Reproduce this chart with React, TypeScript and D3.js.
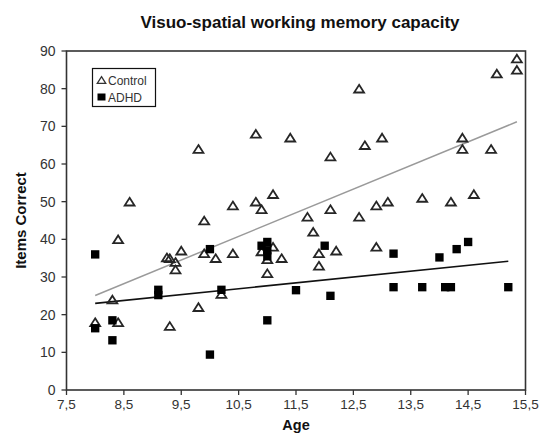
import * as d3 from "d3";

// Control group: [age, items correct]
const controlAge = [
  8.0, 8.3, 8.4, 8.4, 8.6, 9.25, 9.3, 9.3, 9.4, 9.4, 9.5, 9.8, 9.8, 9.9, 9.9,
  10.1, 10.2, 10.4, 10.4, 10.8, 10.8, 10.9, 10.9, 11.0, 11.0, 11.1, 11.1, 11.25,
  11.4, 11.7, 11.8, 11.9, 11.9, 12.1, 12.1, 12.2, 12.6, 12.6, 12.7, 12.9, 12.9,
  13.0, 13.1, 13.7, 14.2, 14.4, 14.4, 14.6, 14.9, 15.0, 15.35, 15.35,
];
const controlItems = [
  18, 24, 18, 40, 50, 35.2, 35, 17, 34, 32, 37, 64, 22, 45, 36.3,
  35, 25.5, 49, 36.3, 68, 50, 48, 36.8, 34.7, 31, 52, 38, 35,
  67, 46, 42, 36.3, 33, 62, 48, 37, 80, 46, 65, 49, 38,
  67, 50, 51, 50, 67, 64, 52, 64, 84, 88, 85,
];

// ADHD group
const adhdAge = [
  8.0, 8.0, 8.3, 8.3, 9.1, 9.1, 10.0, 10.0, 10.2, 10.9, 11.0, 11.0, 11.0, 11.0,
  11.5, 12.0, 12.1, 13.2, 13.2, 13.7, 14.0, 14.1, 14.2, 14.3, 14.5, 15.2,
];
const adhdItems = [
  36, 16.4, 18.5, 13.2, 26.6, 25.2, 37.4, 9.4, 26.6, 38.3, 39.3, 37.1, 35.5, 18.5,
  26.5, 38.3, 25, 36.2, 27.3, 27.3, 35.2, 27.3, 27.3, 37.4, 39.3, 27.3,
];

// fitted lines (end points as printed)
const controlFitAge = [8.0, 15.35];
const controlFitItems = [25.1, 71.2];
const adhdFitAge = [8.0, 15.2];
const adhdFitItems = [23.0, 34.2];

const xTicks = [7.5, 8.5, 9.5, 10.5, 11.5, 12.5, 13.5, 14.5, 15.5];
const yTicks = [0, 10, 20, 30, 40, 50, 60, 70, 80, 90];

const W = 549;
const H = 437;
const font = "'Liberation Sans', Arial, sans-serif";

// a triangle a bit wider than tall, like the printed marker
const wideTriangle: d3.SymbolType = {
  draw(ctx, size) {
    const w = Math.sqrt(size) * 1.6;
    const h = w * 0.78;
    ctx.moveTo(0, -h / 2);
    ctx.lineTo(w / 2, h / 2);
    ctx.lineTo(-w / 2, h / 2);
    ctx.closePath();
  },
};

export default function App() {
  const x = d3.scaleLinear().domain([7.5, 15.5]).range([66.5, 525.5]);
  const y = d3.scaleLinear().domain([0, 90]).range([390, 51]);

  const tri = d3.symbol().type(wideTriangle).size(38)() ?? "";
  const triSmall = d3.symbol().type(wideTriangle).size(28)() ?? "";
  const sq = d3.symbol().type(d3.symbolSquare).size(70)() ?? "";
  const line = d3
    .line<[number, number]>()
    .x((d) => x(d[0]))
    .y((d) => y(d[1]));

  const controlFit = controlFitAge.map((a, i) => [a, controlFitItems[i]] as [number, number]);
  const adhdFit = adhdFitAge.map((a, i) => [a, adhdFitItems[i]] as [number, number]);

  const [x0, x1] = x.range();
  const [y0, y1] = y.range();

  return (
    <svg
      width={W}
      height={H}
      style={{ position: "absolute", left: 0, top: 0, background: "#fff" }}
      fontFamily={font}
    >
      <text x={300} y={28} textAnchor="middle" fontSize={17} fontWeight="bold" fill="#111">
        Visuo-spatial working memory capacity
      </text>

      {/* frame */}
      <rect x={x0} y={y1} width={x1 - x0} height={y0 - y1} fill="none" stroke="#333" strokeWidth={1.6} />

      {/* y axis */}
      {yTicks.map((t) => (
        <g key={"y" + t}>
          <line x1={x0 - 5} x2={x0} y1={y(t)} y2={y(t)} stroke="#333" strokeWidth={1.3} />
          <text x={x0 - 11} y={y(t) + 5} textAnchor="end" fontSize={14} fill="#333">
            {t}
          </text>
        </g>
      ))}
      {/* x axis */}
      {xTicks.map((t) => (
        <g key={"x" + t}>
          <line x1={x(t)} x2={x(t)} y1={y0} y2={y0 + 5} stroke="#333" strokeWidth={1.3} />
          <text x={x(t)} y={y0 + 19} textAnchor="middle" fontSize={13.5} fill="#333">
            {String(t).replace(".", ",")}
          </text>
        </g>
      ))}
      <text x={296} y={430} textAnchor="middle" fontSize={14.5} fontWeight="bold" fill="#111">
        Age
      </text>
      <text
        transform={`translate(26,${(y0 + y1) / 2}) rotate(-90)`}
        textAnchor="middle"
        fontSize={15}
        fontWeight="bold"
        fill="#111"
      >
        Items Correct
      </text>

      {/* fit lines */}
      <path d={line(controlFit) ?? ""} fill="none" stroke="#9a9a9a" strokeWidth={1.5} />
      <path d={line(adhdFit) ?? ""} fill="none" stroke="#111" strokeWidth={1.6} />

      {controlAge.map((a, i) => (
        <path
          key={"c" + i}
          d={tri}
          transform={`translate(${x(a)},${y(controlItems[i])})`}
          fill="none"
          stroke="#262626"
          strokeWidth={1.8}
          strokeLinejoin="miter"
        />
      ))}
      {adhdAge.map((a, i) => (
        <path key={"a" + i} d={sq} transform={`translate(${x(a)},${y(adhdItems[i])})`} fill="#000" />
      ))}

      {/* legend */}
      <rect x={92.5} y={68.5} width={63} height={38} fill="#fff" stroke="#111" strokeWidth={1.2} />
      <path d={triSmall} transform="translate(101.5,80)" fill="none" stroke="#333" strokeWidth={1.3} />
      <text x={108} y={84.5} fontSize={12} fill="#333">Control</text>
      <rect x={97.5} y={93.5} width={8} height={7} fill="#000" />
      <text x={108} y={101.5} fontSize={12} fill="#333">ADHD</text>
    </svg>
  );
}
